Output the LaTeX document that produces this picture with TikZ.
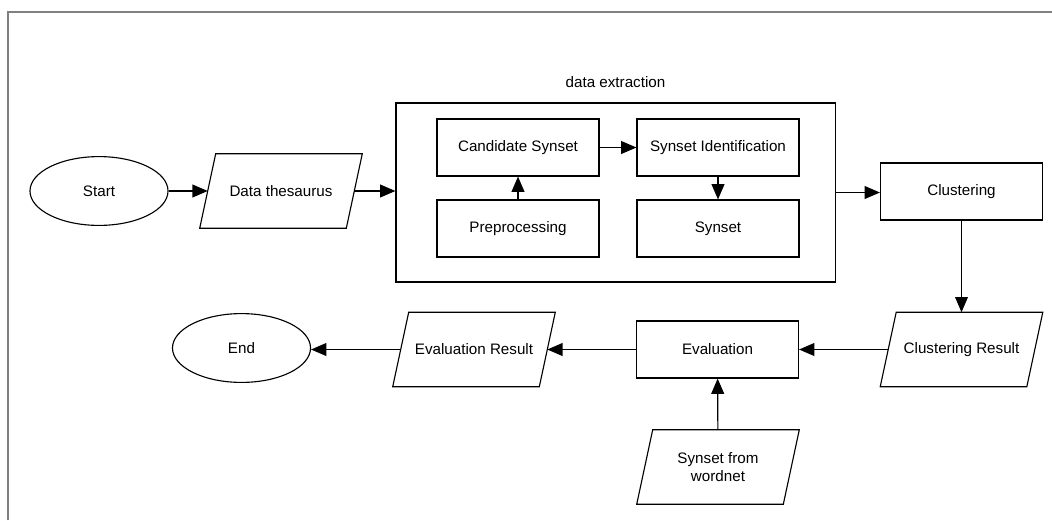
\documentclass[tikz,border=0pt]{standalone}
\usepackage{fontspec}
\setmainfont{Liberation Sans}
\usetikzlibrary{positioning, arrows.meta, shapes.geometric}

\begin{document}
\begin{tikzpicture}[
    % GLOBAL CFG (one unit = one pixel of the page)
    x=0.025cm, y=-0.025cm,
    font=\fontsize{10.8}{13}\selectfont,
    >={Triangle[length=3.8mm, width=3.2mm]},
    % Styles
    process/.style={% For the plain steps
        rectangle,
        draw,
        line width=.8pt,
        minimum width=4.05cm,
        minimum height=1.425cm,
        inner sep=1pt,
        },
    io/.style={% For data in and out, slanted outline drawn round the node
        rectangle,
        minimum width=3.65cm,
        minimum height=1.85cm,
        inner sep=1pt,
        align=center,
        append after command={\pgfextra{%
            \draw [line width=.8pt]
                ([xshift=2mm]\tikzlastnode.north west) --
                ([xshift=2mm]\tikzlastnode.north east) --
                ([xshift=-2mm]\tikzlastnode.south east) --
                ([xshift=-2mm]\tikzlastnode.south west) -- cycle;}},
        },
    terminal/.style={% For start and end
        ellipse,
        draw,
        line width=.8pt,
        minimum width=3.45cm,
        minimum height=1.72cm,
        },
    group/.style={% For the box round the extraction steps
        rectangle,
        draw,
        line width=.8pt,
        minimum width=10.975cm,
        minimum height=4.475cm,
        },
    mylabel/.style={% title of the group
        font=\fontsize{10.8}{13}\selectfont,
        },
    ArrowC1/.style={% plain arrows
        line width=.8pt,
        },
    ]

    \useasboundingbox (0,0) rectangle (1052,520);

    % Frame round the page
    \draw [gray, line width=1.2pt] (8,520) |- (1052,12);

    % Start and first input
    \node [terminal] (start) at (99,191) {Start};
    \node [io] (data) at (281,191) {Data thesaurus};

    % Draw the extraction group and its steps
    \node [group, label={[mylabel, label distance=2.4mm]above:data extraction}] (extr) at (615.5,192.5) {};
    \node [process] (cand) at (518,147.5) {Candidate Synset};
    \node [process] (ident) at (718,147.5) {Synset Identification};
    \node [process] (prep) at (518,228.5) {Preprocessing};
    \node [process] (synset) at (718,228.5) {Synset};

    % Clustering and evaluation
    \node [process] (clust) at (961.5,191.5) {Clustering};
    \node [io] (clres) at (961.5,349.5) {Clustering Result};
    \node [process] (eval) at (717.5,349.5) {Evaluation};
    \node [io] (evres) at (474,349.5) {Evaluation Result};
    \node [terminal] (end) at (241.5,348) {End};
    \node [io] (wordnet) at (718,467) {Synset from\\wordnet};

% Start connecting all.
    \draw [->,ArrowC1] (start) -- (data);
    \draw [->,ArrowC1] (data) -- (data -| extr.west);
    \draw [->,ArrowC1] (extr) -- (extr -| clust.west);

    % Inside the group
    \draw [->,ArrowC1] (prep) -- (cand);
    \draw [->,ArrowC1] (cand) -- (ident);
    \draw [->,ArrowC1] (ident) -- (synset);

    % Results
    \draw [->,ArrowC1] (clust) -- (clres);
    \draw [->,ArrowC1] (clres) -- (eval);
    \draw [->,ArrowC1] (wordnet) -- (eval);
    \draw [->,ArrowC1] (eval) -- (evres);
    \draw [->,ArrowC1] (evres) -- (evres -| end.east);

\end{tikzpicture}
\end{document}
